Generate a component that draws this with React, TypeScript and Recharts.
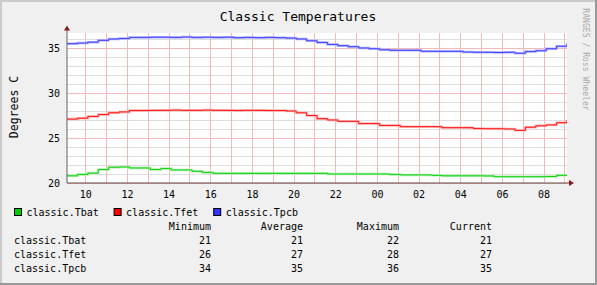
import React from 'react';
import { LineChart, Line, XAxis, YAxis, CartesianGrid } from 'recharts';

const hours = [9.1, 9.6, 10.1, 10.6, 11.1, 11.6, 12.1, 12.6, 13.1, 13.6, 14.1, 14.6, 15.1, 15.6, 16.1, 16.6, 17.1, 17.6, 18.1, 18.6, 19.1, 19.6, 20.1, 20.6, 21.1, 21.6, 22.1, 22.6, 23.1, 23.6, 24.1, 24.6, 25.1, 25.6, 26.1, 26.6, 27.1, 27.6, 28.1, 28.6, 29.1, 29.6, 30.1, 30.6, 31.1, 31.6, 32.1, 32.6, 33.1];

const tbat = [20.8, 20.95, 21.1, 21.5, 21.75, 21.78, 21.67, 21.67, 21.5, 21.6, 21.45, 21.45, 21.3, 21.18, 21.07, 21.07, 21.07, 21.07, 21.07, 21.07, 21.07, 21.07, 21.07, 21.07, 21.07, 21.0, 21.0, 21.0, 21.0, 21.0, 21.0, 20.95, 20.9, 20.9, 20.9, 20.85, 20.8, 20.8, 20.8, 20.8, 20.78, 20.7, 20.7, 20.7, 20.7, 20.7, 20.72, 20.85, 20.9];

const tfet = [27.1, 27.2, 27.4, 27.6, 27.8, 27.9, 28.05, 28.05, 28.07, 28.07, 28.1, 28.07, 28.07, 28.1, 28.07, 28.07, 28.05, 28.07, 28.07, 28.05, 28.05, 28.0, 27.8, 27.5, 27.15, 27.0, 26.85, 26.85, 26.6, 26.6, 26.4, 26.4, 26.26, 26.26, 26.26, 26.26, 26.15, 26.15, 26.15, 26.05, 26.03, 26.03, 26.0, 25.85, 26.2, 26.35, 26.45, 26.7, 27.0];

const tpcb = [35.48, 35.55, 35.65, 35.85, 36.0, 36.05, 36.18, 36.18, 36.2, 36.2, 36.18, 36.22, 36.18, 36.2, 36.18, 36.2, 36.15, 36.18, 36.15, 36.18, 36.15, 36.1, 36.0, 35.8, 35.62, 35.4, 35.26, 35.15, 35.0, 34.92, 34.8, 34.74, 34.74, 34.74, 34.63, 34.63, 34.63, 34.63, 34.55, 34.52, 34.52, 34.5, 34.52, 34.42, 34.6, 34.7, 34.92, 35.2, 35.5];

const xTicks = [10, 12, 14, 16, 18, 20, 22, 24, 26, 28, 30, 32];
const hourLines = [10, 11, 12, 13, 14, 15, 16, 17, 18, 19, 20, 21, 22, 23, 24, 25, 26, 27, 28, 29, 30, 31, 32, 33];
const yMinorLines = [21, 22, 23, 24, 26, 27, 28, 29, 31, 32, 33, 34, 36];
const yMajorLines = [20, 25, 30, 35];
const yTicks = [20, 25, 30, 35];

const seriesKeys = ['tbat', 'tfet', 'tpcb'];
const seriesNames = ['classic.Tbat', 'classic.Tfet', 'classic.Tpcb'];
const seriesColors = ['#10d010', '#ff1414', '#4040ff'];
const bandColors = ['#b0f0b0', '#ffb4b4', '#b4b4ff'];
const swatchColors = ['#00cc00', '#ff0000', '#3333ff'];

const statHeaders = ['Minimum', 'Average', 'Maximum', 'Current'];
const minimums = [21, 26, 34];
const averages = [21, 27, 35];
const maximums = [22, 28, 36];
const currents = [21, 27, 35];

const data = hours.map((t, i) => ({ t, tbat: tbat[i], tfet: tfet[i], tpcb: tpcb[i] }));

const FONT = '"DejaVu Sans Mono", monospace';
const pad2 = (h: number) => String(h % 24).padStart(2, '0');

export default function App() {
  const statCols = [minimums, averages, maximums, currents];
  const colRight = [211, 303, 399, 492];
  return (
    <div style={{ position: 'absolute', left: 0, top: 0, width: 597, height: 285, background: '#f0f0f0', fontFamily: FONT, overflow: 'hidden' }}>
      <div style={{ position: 'absolute', left: 67, top: 33, width: 500, height: 150, background: '#ffffff' }} />
      <div style={{ position: 'absolute', left: 0, top: 0 }}>
        <LineChart width={597} height={285} data={data} margin={{ top: 33, right: 30, bottom: 82, left: 7 }}>
          <CartesianGrid stroke="#dedede" horizontalValues={yMinorLines} vertical={false} shapeRendering="crispEdges" />
          <CartesianGrid stroke="#f3b9b9" horizontalValues={yMajorLines} verticalValues={hourLines} shapeRendering="crispEdges" />
          <XAxis
            dataKey="t"
            type="number"
            domain={[9.1, 33.1]}
            ticks={xTicks}
            tickFormatter={pad2}
            allowDataOverflow
            height={20}
            tickLine={false}
            tickSize={0}
            tickMargin={8}
            axisLine={{ stroke: '#5a4a4a' }}
            tick={{ fill: '#000', fontSize: 10, fontFamily: FONT }}
            interval={0}
          />
          <YAxis
            type="number"
            domain={[20, 36.667]}
            ticks={yTicks}
            allowDataOverflow
            width={60}
            tickLine={false}
            tickSize={0}
            tickMargin={7}
            axisLine={{ stroke: '#606060' }}
            tick={{ fill: '#000', fontSize: 10, fontFamily: FONT }}
            interval={0}
          />
          {seriesKeys.map((k, i) => (
            <Line key={'band' + k} dataKey={k} type="stepAfter" stroke={bandColors[i]} strokeWidth={2.5} dot={false} activeDot={false} isAnimationActive={false} />
          ))}
          {seriesKeys.map((k, i) => (
            <Line key={'line' + k} dataKey={k} type="stepAfter" stroke={seriesColors[i]} strokeWidth={1} dot={false} activeDot={false} isAnimationActive={false} />
          ))}
        </LineChart>
      </div>
      <svg width={597} height={285} style={{ position: 'absolute', left: 0, top: 0, pointerEvents: 'none' }} fontFamily={FONT}>
        <rect x={0} y={0} width={597} height={2} fill="#cbcbcb" />
        <rect x={0} y={0} width={2} height={285} fill="#cbcbcb" />
        <rect x={0} y={283} width={597} height={2} fill="#999999" />
        <rect x={595} y={0} width={2} height={285} fill="#999999" />
        <text x={298} y={21} textAnchor="middle" fontSize={13} fill="#000">Classic Temperatures</text>
        <text x={18.3} y={107} textAnchor="middle" fontSize={11.5} fill="#000" transform="rotate(-90 18.3 107)">Degrees C</text>
        <text x={582.5} y={8.3} fontSize={8.1} fill="#aaaaaa" transform="rotate(90 582.5 8.3)">RANGES / Ross Wheeler</text>
        <line x1={67} y1={33} x2={67} y2={29} stroke="#606060" />
        <polygon points="64,30.5 70,30.5 67,25.5" fill="#8b1a1a" />
        <line x1={567} y1={183} x2={570} y2={183} stroke="#5a4a4a" />
        <polygon points="569,180 569,186 574,183" fill="#8b1a1a" />
        {seriesNames.map((n, i) => (
          <g key={n}>
            <rect x={14.5 + i * 99.6} y={208.5} width={7} height={7} fill={swatchColors[i]} stroke="#000" strokeWidth={1} />
            <text x={26.5 + i * 99.6} y={215.8} fontSize={10} fill="#000">{n}</text>
          </g>
        ))}
        {statHeaders.map((h, j) => (
          <text key={h} x={colRight[j]} y={229.5} textAnchor="end" fontSize={10} fill="#000">{h}</text>
        ))}
        {seriesNames.map((n, i) => (
          <g key={'row' + n}>
            <text x={14} y={243.5 + i * 14} fontSize={10} fill="#000">{n}</text>
            {statCols.map((col, j) => (
              <text key={j} x={colRight[j]} y={243.5 + i * 14} textAnchor="end" fontSize={10} fill="#000">{col[i]}</text>
            ))}
          </g>
        ))}
      </svg>
    </div>
  );
}
